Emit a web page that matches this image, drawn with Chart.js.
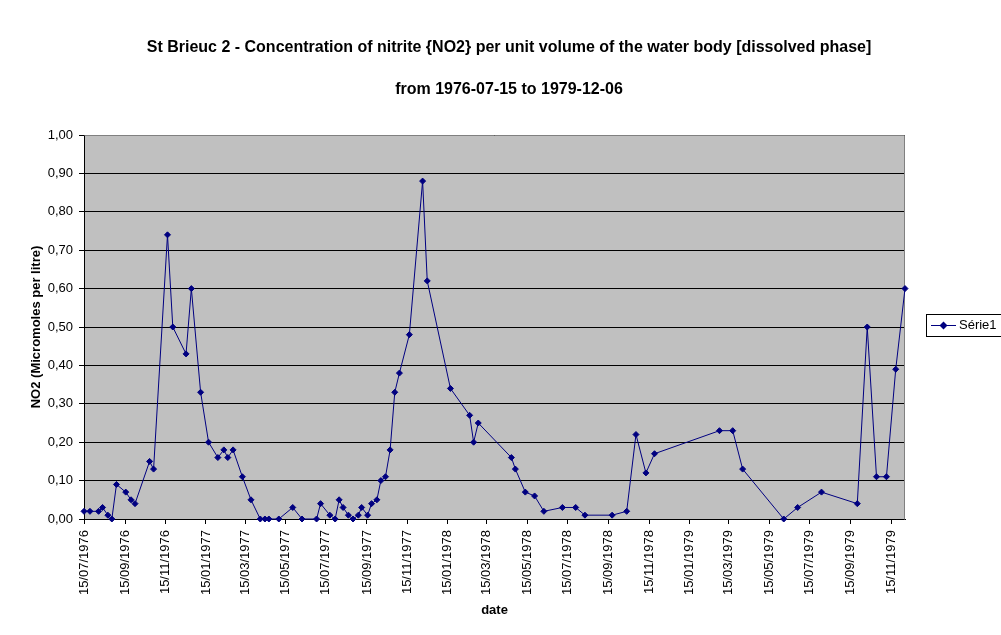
<!DOCTYPE html>
<html>
<head>
<meta charset="utf-8">
<script src="https://cdn.jsdelivr.net/npm/chart.js@4.4.1/dist/chart.umd.min.js"></script>
<style>
  html, body { margin: 0; padding: 0; background: #fff; }
  #wrap { width: 1001px; height: 635px; position: relative; }
</style>
</head>
<body>
<div id="wrap"><canvas id="c"></canvas></div>
<script>
const titleText = 'St Brieuc 2 - Concentration of nitrite {NO2} per unit volume of the water body [dissolved phase]';
const subtitleText = 'from 1976-07-15 to 1979-12-06';
const seriesName = 'Série1';
const yTitle = 'NO2 (Micromoles per litre)';
const xTitle = 'date';

const dates = ['1976-07-15','1976-07-24','1976-08-06','1976-08-12','1976-08-20','1976-08-26','1976-09-02','1976-09-16','1976-09-24','1976-09-30',
  '1976-10-22','1976-10-28','1976-11-18','1976-11-26','1976-12-16','1976-12-24',
  '1977-01-07','1977-01-19','1977-02-02','1977-02-11','1977-02-17','1977-02-25','1977-03-11','1977-03-24','1977-04-07','1977-04-14','1977-04-20','1977-05-05','1977-05-26','1977-06-09',
  '1977-07-01','1977-07-07','1977-07-21','1977-07-29','1977-08-04','1977-08-10','1977-08-18','1977-08-25','1977-09-02','1977-09-07','1977-09-16','1977-09-22','1977-09-30',
  '1977-10-06','1977-10-13','1977-10-20','1977-10-27','1977-11-03','1977-11-18','1977-12-08','1977-12-15',
  '1978-01-19','1978-02-17','1978-02-23','1978-03-02','1978-04-21','1978-04-27','1978-05-12','1978-05-26','1978-06-09','1978-07-07','1978-07-27','1978-08-10','1978-09-20','1978-10-12','1978-10-26','1978-11-10','1978-11-23',
  '1979-03-01','1979-03-21','1979-04-05','1979-06-06','1979-06-27','1979-08-02','1979-09-25','1979-10-10','1979-10-24','1979-11-08','1979-11-22','1979-12-06'];

const values = [0.02,0.02,0.02,0.03,0.01,0.00,0.09,0.07,0.05,0.04,
  0.15,0.13,0.74,0.50,0.43,0.60,
  0.33,0.20,0.16,0.18,0.16,0.18,0.11,0.05,0.00,0.00,0.00,0.00,0.03,0.00,
  0.00,0.04,0.01,0.00,0.05,0.03,0.01,0.00,0.01,0.03,0.01,0.04,0.05,
  0.10,0.11,0.18,0.33,0.38,0.48,0.88,0.62,
  0.34,0.27,0.20,0.25,0.16,0.13,0.07,0.06,0.02,0.03,0.03,0.01,0.01,0.02,0.22,0.12,0.17,
  0.23,0.23,0.13,0.00,0.03,0.07,0.04,0.50,0.11,0.11,0.39,0.60];

const xTickLabels = ['15/07/1976','15/09/1976','15/11/1976','15/01/1977','15/03/1977','15/05/1977','15/07/1977','15/09/1977','15/11/1977',
  '15/01/1978','15/03/1978','15/05/1978','15/07/1978','15/09/1978','15/11/1978','15/01/1979','15/03/1979','15/05/1979','15/07/1979','15/09/1979','15/11/1979'];

const xMinDate = '1976-07-15';
const xMaxDate = '1979-12-06';

function isoDay(s) { const p = s.split('-').map(Number); return Date.UTC(p[0], p[1]-1, p[2]) / 86400000; }
function dmyDay(s) { const p = s.split('/').map(Number); return Date.UTC(p[2], p[1]-1, p[0]) / 86400000; }

const tickMap = {};
xTickLabels.forEach(l => { tickMap[dmyDay(l)] = l; });

const points = dates.map((d, i) => ({ x: isoDay(d), y: values[i] }));

const FONT = "Arial, 'Liberation Sans', sans-serif";
Chart.defaults.font.family = FONT;
Chart.defaults.color = '#000';

const plotBg = {
  id: 'plotBg',
  beforeDraw(chart) {
    const {ctx, chartArea: a} = chart;
    ctx.save();
    ctx.fillStyle = '#c0c0c0';
    ctx.fillRect(a.left, a.top, a.right - a.left, a.bottom - a.top);
    ctx.restore();
  },
  beforeDatasetsDraw(chart) {
    const {ctx, chartArea: a} = chart;
    ctx.save();
    ctx.strokeStyle = '#808080';
    ctx.lineWidth = 1;
    ctx.beginPath();
    ctx.moveTo(Math.round(a.left) + 0.5, Math.round(a.top) + 0.5);
    ctx.lineTo(Math.round(a.right) - 0.5, Math.round(a.top) + 0.5);
    ctx.lineTo(Math.round(a.right) - 0.5, Math.round(a.bottom) + 0.5);
    ctx.stroke();
    ctx.restore();
  }
};

const boxLegend = {
  id: 'boxLegend',
  afterDraw(chart) {
    const {ctx} = chart;
    const ds = chart.data.datasets[0];
    const left = 926, top = 314, bottom = 336;
    ctx.save();
    ctx.fillStyle = '#fff';
    ctx.fillRect(left, top, 1010 - left, bottom - top);
    ctx.strokeStyle = '#000';
    ctx.lineWidth = 1;
    ctx.strokeRect(left + 0.5, top + 0.5, 1010 - left, bottom - top);
    const cy = (top + bottom) / 2 + 0.5;
    ctx.strokeStyle = ds.borderColor;
    ctx.beginPath();
    ctx.moveTo(931, cy);
    ctx.lineTo(956, cy);
    ctx.stroke();
    ctx.fillStyle = ds.borderColor;
    ctx.beginPath();
    ctx.moveTo(943.5, cy - 4); ctx.lineTo(947.5, cy); ctx.lineTo(943.5, cy + 4); ctx.lineTo(939.5, cy); ctx.closePath();
    ctx.fill();
    ctx.fillStyle = '#000';
    ctx.font = '13px ' + FONT;
    ctx.textBaseline = 'middle';
    ctx.textAlign = 'left';
    ctx.fillText(ds.label, 959, cy);
    ctx.restore();
  }
};

new Chart(document.getElementById('c'), {
  type: 'line',
  data: {
    datasets: [{
      label: seriesName,
      data: points,
      borderColor: '#000080',
      backgroundColor: '#000080',
      borderWidth: 1,
      pointStyle: 'rectRot',
      pointRadius: 3,
      pointBorderWidth: 1,
      pointBackgroundColor: '#000080',
      pointBorderColor: '#000080',
      tension: 0,
      clip: false
    }]
  },
  options: {
    responsive: true,
    maintainAspectRatio: false,
    animation: false,
    layout: { padding: { left: 17, right: 0, top: 0, bottom: 0 } },
    plugins: {
      legend: { display: false },
      tooltip: { enabled: false },
      title: {
        display: true, text: titleText, color: '#000',
        font: { size: 16, weight: 'bold', lineHeight: 1.2 },
        padding: { top: 38.4, bottom: 22.8 }
      },
      subtitle: {
        display: true, text: subtitleText, color: '#000',
        font: { size: 16, weight: 'bold', lineHeight: 1.2 },
        padding: { top: 0, bottom: 35.4 }
      }
    },
    scales: {
      x: {
        type: 'linear',
        min: isoDay(xMinDate),
        max: isoDay(xMaxDate),
        afterFit(s) { s.height = 116; },
        afterBuildTicks(s) { s.ticks = xTickLabels.map(l => ({ value: dmyDay(l) })); },
        ticks: {
          autoSkip: false, minRotation: 90, maxRotation: 90, padding: 6,
          font: { size: 13 }, color: '#000',
          callback: v => tickMap[v] || ''
        },
        grid: { drawOnChartArea: false, drawTicks: true, tickLength: 5, color: '#000' },
        border: { display: true, color: '#000', width: 1 },
        title: { display: true, text: xTitle, color: '#000', font: { size: 13, weight: 'bold', lineHeight: 1.2 }, padding: { top: 0, bottom: 17.2 } }
      },
      y: {
        min: 0, max: 1,
        afterFit(s) { s.width = 67; },
        ticks: {
          stepSize: 0.1, padding: 6, font: { size: 13 }, color: '#000',
          callback: v => v.toFixed(2).replace('.', ',')
        },
        grid: { color: '#000', lineWidth: 1, tickLength: 5, drawTicks: true },
        border: { display: true, color: '#000', width: 1 },
        title: { display: true, text: yTitle, color: '#000', font: { size: 13, weight: 'bold', lineHeight: 1.2 }, padding: { top: 11.2, bottom: 0 } }
      },
      legendSpace: {
        type: 'linear',
        position: 'right',
        display: true,
        afterFit(s) { s.width = 96; },
        ticks: { display: false },
        grid: { display: false, drawTicks: false },
        border: { display: false },
        title: { display: false }
      }
    }
  },
  plugins: [plotBg, boxLegend]
});
</script>
</body>
</html>
